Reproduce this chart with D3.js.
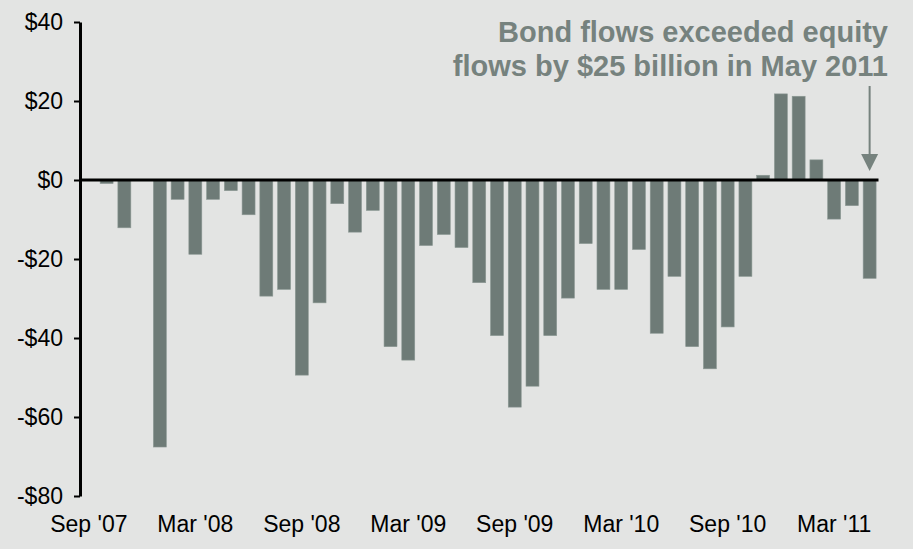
<!DOCTYPE html>
<html>
<head>
<meta charset="utf-8">
<script src="https://cdn.jsdelivr.net/npm/d3@7"></script>
<style>
  body { margin: 0; background: #e3e4e3; }
  svg { display: block; font-family: Arial, "Liberation Sans", sans-serif; }
</style>
</head>
<body>
<svg id="chart" width="913" height="549"></svg>
<script>
// months Sep '07 .. May '11, net flow (equity minus bond), $ billions
var months = ["Sep '07","Oct '07","Nov '07","Dec '07",
  "Jan '08","Feb '08","Mar '08","Apr '08","May '08","Jun '08","Jul '08","Aug '08","Sep '08","Oct '08","Nov '08","Dec '08",
  "Jan '09","Feb '09","Mar '09","Apr '09","May '09","Jun '09","Jul '09","Aug '09","Sep '09","Oct '09","Nov '09","Dec '09",
  "Jan '10","Feb '10","Mar '10","Apr '10","May '10","Jun '10","Jul '10","Aug '10","Sep '10","Oct '10","Nov '10","Dec '10",
  "Jan '11","Feb '11","Mar '11","Apr '11","May '11"];

var flows = [0, -0.9, -12.1, 0,
  -67.6, -4.9, -18.8, -4.9, -2.7, -8.8, -29.4, -27.7, -49.4, -31.1, -6.0, -13.2,
  -7.7, -42.2, -45.6, -16.6, -13.8, -17.1, -26.0, -39.4, -57.5, -52.2, -39.4, -29.9,
  -16.1, -27.7, -27.7, -17.6, -38.8, -24.4, -42.2, -47.8, -37.2, -24.4, 1.2, 21.8,
  21.2, 5.1, -9.9, -6.5, -24.9];

var xLabels = ["Sep '07","Mar '08","Sep '08","Mar '09","Sep '09","Mar '10","Sep '10","Mar '11"];
var yTicks = [40, 20, 0, -20, -40, -60, -80];
var noteLines = ["Bond flows exceeded equity", "flows by $25 billion in May 2011"];
var noteMonth = "May '11";

var svg = d3.select("#chart");
var barColor = "#6e7b77",
  noteColor = "#76827e";

var x = d3.scaleBand()
  .domain(months)
  .range([80, 878.5])
  .paddingInner(0.27)
  .paddingOuter(0.135);

var y = d3.scaleLinear()
  .domain([-80, 40])
  .range([496, 22]);

var data = months.map(function (m, i) { return {month: m, value: flows[i]}; });

// bars
svg.append("g")
  .selectAll("rect")
  .data(data.filter(function (d) { return d.value !== 0; }))
  .enter()
  .append("rect")
  .attr("x", function (d) { return x(d.month); })
  .attr("width", x.bandwidth())
  .attr("y", function (d) { return y(Math.max(0, d.value)); })
  .attr("height", function (d) { return Math.abs(y(d.value) - y(0)); })
  .attr("fill", barColor)
  .attr("stroke", "#8c9894")
  .attr("stroke-width", 0.6);

// zero line
svg.append("line")
  .attr("x1", 80).attr("x2", 878.5)
  .attr("y1", y(0)).attr("y2", y(0))
  .attr("stroke", "#000")
  .attr("stroke-width", 3);

// y axis
var fmt = function (d) { return (d < 0 ? "-$" : "$") + Math.abs(d); };
var yAxis = svg.append("g")
  .attr("transform", "translate(80,0)")
  .call(d3.axisLeft(y).tickValues(yTicks).tickFormat(fmt).tickSizeInner(6).tickSizeOuter(0).tickPadding(11));
yAxis.select(".domain").attr("stroke", "#000").attr("stroke-width", 3);
yAxis.selectAll(".tick line").attr("stroke", "#000").attr("stroke-width", 2);
yAxis.selectAll(".tick text")
  .attr("fill", "#000")
  .style("font-size", "23px")
  .style("font-family", "Arial, 'Liberation Sans', sans-serif");

// x labels
var xAxis = svg.append("g")
  .attr("transform", "translate(0," + 510 + ")")
  .call(d3.axisBottom(x).tickValues(xLabels).tickSize(0).tickPadding(0));
xAxis.select(".domain").remove();
xAxis.selectAll(".tick text")
  .attr("fill", "#000")
  .attr("dy", "0.95em")
  .style("font-size", "23px")
  .style("font-family", "Arial, 'Liberation Sans', sans-serif");

// annotation
var note = svg.append("text")
  .attr("text-anchor", "end")
  .attr("fill", noteColor)
  .style("font-weight", "bold")
  .style("font-size", "29px");
note.selectAll("tspan")
  .data(noteLines)
  .enter()
  .append("tspan")
  .attr("x", 888)
  .attr("y", function (d, i) { return 42 + i * 34; })
  .text(function (d) { return d; });

var ax = x(noteMonth) + x.bandwidth() / 2;
svg.append("line")
  .attr("x1", ax).attr("x2", ax)
  .attr("y1", 86).attr("y2", 156)
  .attr("stroke", noteColor)
  .attr("stroke-width", 2);
svg.append("path")
  .attr("d", d3.line()([[ax - 8.5, 154], [ax + 8.5, 154], [ax, 171]]))
  .attr("fill", noteColor);
</script>
</body>
</html>
